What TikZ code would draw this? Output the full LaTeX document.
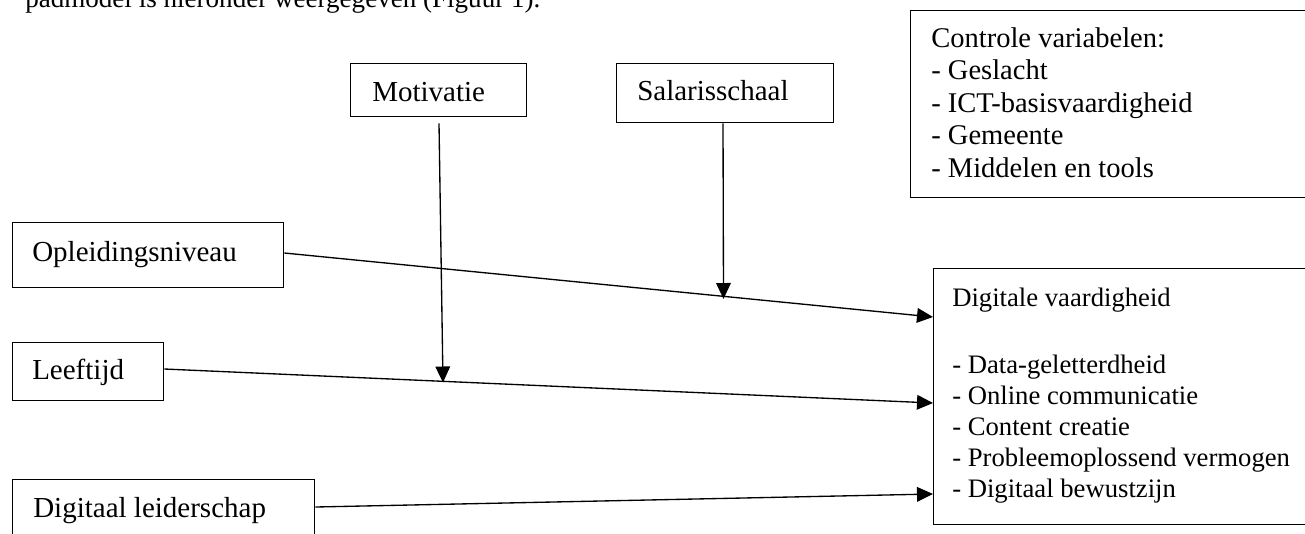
\documentclass[tikz,border=0pt]{standalone}
\usepackage{fontspec}
\setmainfont{Liberation Serif}
\usetikzlibrary{arrows.meta,calc}
\newcommand\pxu[1]{#1*0.75pt}
\begin{document}
\begin{tikzpicture}[x=0.75pt,y=-0.75pt,
  box/.style={draw,line width=1pt,anchor=north west,inner sep=0pt},
  big/.style={anchor=base west,inner sep=0pt,font=\fontsize{21.75}{26}\selectfont},
  mid/.style={anchor=base west,inner sep=0pt,font=\fontsize{21.4}{25}\selectfont},
  sml/.style={anchor=base west,inner sep=0pt,font=\fontsize{20}{24}\selectfont},
  body/.style={anchor=base west,inner sep=0pt,font=\fontsize{20.3}{24}\selectfont},
  arr/.style={line width=1pt,-{Triangle[length=12pt,width=11pt]}}]
\path[use as bounding box,clip] (0,0) rectangle (1305,533);
\fill[white] (0,0) rectangle (1305,533);
% top body text (cut off)
\node[body] (top) at (25,7.5) {padmodel is hieronder weergegeven (Figuur 1).};
% boxes
\node[box,minimum width=\pxu{430},minimum height=\pxu{187}] (ctl) at (910,10) {};
\node[box,minimum width=\pxu{176},minimum height=\pxu{53}] (mot) at (350,63) {};
\node[box,minimum width=\pxu{217},minimum height=\pxu{59}] (sal) at (616,63) {};
\node[box,minimum width=\pxu{271},minimum height=\pxu{65}] (opl) at (12,222) {};
\node[box,minimum width=\pxu{151},minimum height=\pxu{58}] (lft) at (12,342) {};
\node[box,minimum width=\pxu{302},minimum height=\pxu{70}] (dl) at (12,479) {};
\node[box,minimum width=\pxu{420},minimum height=\pxu{256}] (dig) at (933,268) {};
% texts
\node[mid] (c1) at (931,47) {Controle variabelen:};
\node[mid] (c2) at (931,79.5) {- Geslacht};
\node[mid] (c3) at (931,112) {- ICT-basisvaardigheid};
\node[mid] (c4) at (931,144.5) {- Gemeente};
\node[mid] (c5) at (931,177) {- Middelen en tools};
\node[big] (t1) at (372,101) {Motivatie};
\node[big] (t2) at (637,100) {Salarisschaal};
\node[big] (t3) at (32,261) {Opleidingsniveau};
\node[big] (t4) at (32,379) {Leeftijd};
\node[big] (t5) at (33,517) {Digitaal leiderschap};
\node[sml] (d0) at (952,306) {Digitale vaardigheid};
\node[sml] (d1) at (952,373) {- Data-geletterdheid};
\node[sml] (d2) at (952,404) {- Online communicatie};
\node[sml] (d3) at (952,435) {- Content creatie};
\node[sml] (d4) at (952,466) {- Probleemoplossend vermogen};
\node[sml] (d5) at (952,497) {- Digitaal bewustzijn};
% connectors
\coordinate (mtip) at (443,382.5);
\coordinate (stip) at (723.5,299);
\draw[arr] ($(opl.north east)+(0,31)$) -- ($(dig.north west)+(0,49)$);
\draw[arr] ($(lft.north east)+(0,27)$) -- ($(dig.north west)+(0,135)$);
\draw[arr] ($(dl.north east)+(0,28)$) -- ($(dig.north west)+(0,226)$);
\draw[arr] ($(mot.south west)+(89,6)$) -- (mtip);
\draw[arr] ($(sal.south west)+(107,0)$) -- (stip);
\end{tikzpicture}
\end{document}
